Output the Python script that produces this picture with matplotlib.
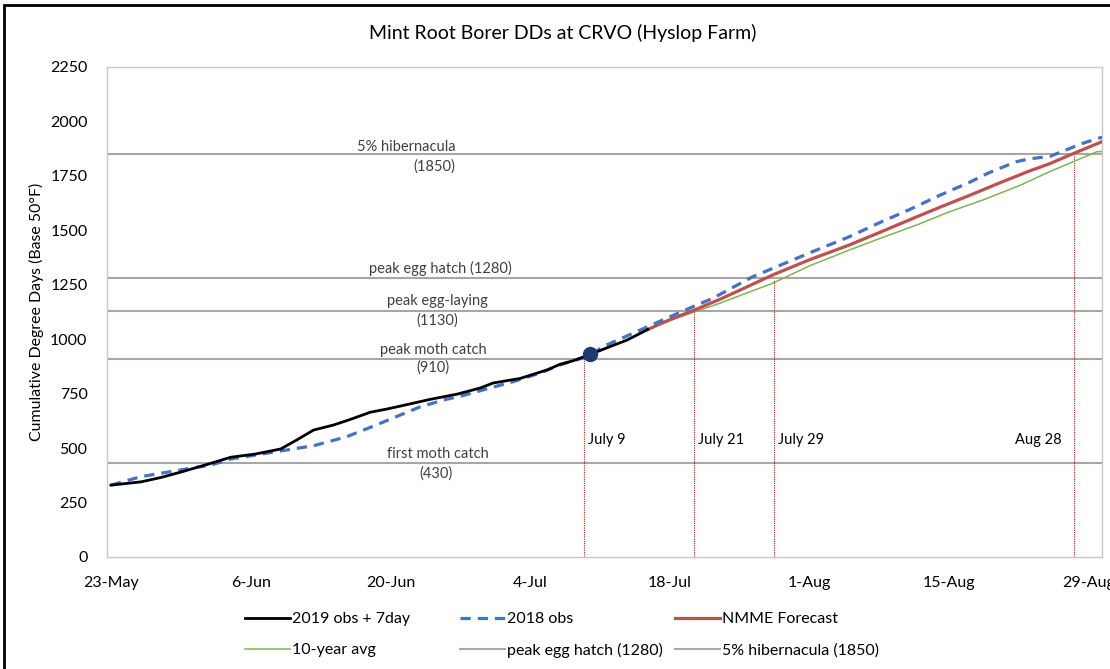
import matplotlib
matplotlib.use("Agg")
import matplotlib.pyplot as plt
from matplotlib.lines import Line2D
from matplotlib.patches import Rectangle

plt.rcParams['font.family'] = ['Lato', 'DejaVu Sans']

# ---- data (x = days after 23-May) ----
tick_days = [0, 14, 28, 42, 56, 70, 84, 98]
tick_labels = ["23-May", "6-Jun", "20-Jun", "4-Jul", "18-Jul", "1-Aug", "15-Aug", "29-Aug"]

obs2019_x = [0, 3, 5, 7, 10, 12, 14.5, 17, 18.6, 20.3, 22.3, 24, 26, 27.7, 29, 32, 34.7,
             37, 38.3, 41, 43.7, 45, 46.3, 48, 50, 51.7, 53.8]
obs2019_y = [330, 345, 365, 390, 430, 458, 473, 496, 537, 583, 606, 632, 665, 680, 693, 724, 748,
             776, 799, 820, 859, 885, 901, 930, 966, 996, 1045]

obs2018_x = [0, 3, 7, 10, 12, 16.6, 20.3, 23.6, 26.3, 29, 31, 33.6, 35, 37.5, 40.3, 43, 45, 47,
             48, 49.3, 51.7, 53.8, 56, 58.3, 60.3, 64.3, 70.3, 74, 77, 80, 83, 86, 88, 90.7,
             92, 94.1, 96, 97.4, 99.3]
obs2018_y = [330, 369, 400, 422, 450, 484, 511, 552, 601, 652, 690, 724, 738, 770, 805, 845, 882, 910,
             925, 966, 1015, 1058, 1103, 1149, 1188, 1287, 1402, 1471, 1535, 1595, 1660, 1720, 1765, 1815,
             1828, 1840, 1875, 1900, 1928]

nmme_x = [53.8, 56, 58.3, 61, 63, 66.3, 70, 74, 77, 80, 83, 86, 89, 92, 94, 96.4, 99.3]
nmme_y = [1045, 1090, 1131, 1183, 1225, 1295, 1365, 1433, 1490, 1548, 1605, 1660, 1717, 1772, 1805, 1852, 1907]

avg10_x = [53.8, 56, 58.3, 61, 63, 66.3, 70, 74, 77, 80.7, 84, 87.4, 91, 94.1, 96.4, 98.8, 99.3]
avg10_y = [1045, 1085, 1123, 1165, 1200, 1257, 1337, 1410, 1462, 1524, 1585, 1640, 1705, 1770, 1815, 1861, 1862]

thresholds = [430, 910, 1130, 1280, 1850]
marker_x, marker_y = 48.0, 932

event_days = [47.4, 58.4, 66.4, 96.5]
event_tops = [930, 1130, 1270, 1852]
event_labels = ["July 9", "July 21", "July 29", "Aug 28"]

stage_texts = ["5% hibernacula", "(1850)", "peak egg hatch (1280)", "peak egg-laying", "(1130)",
               "peak moth catch", "(910)", "first moth catch", "(430)"]
stage_x = [29.6, 32.4, 33.0, 32.7, 32.7, 32.3, 32.3, 32.8, 32.6]
stage_y = [1883, 1791, 1327, 1175, 1084, 950, 868, 473, 381]

# ---- figure ----
W, H = 1110, 669
fig = plt.figure(figsize=(W / 100, H / 100), dpi=100)
ax = fig.add_axes([107 / W, 1 - 557 / H, (1102 - 107) / W, (557 - 67) / H])

gray = "#A6A6A6"
for t in thresholds:
    ax.axhline(t, color=gray, lw=1.5, zorder=1)

for d, top in zip(event_days, event_tops):
    ax.plot([d, d], [0, top], color="#FF0000", lw=0.8, ls=(0, (1, 1)), zorder=2)

ax.plot(avg10_x, avg10_y, color="#7DB54F", lw=1.1, zorder=3)
ax.plot(nmme_x, nmme_y, color="#C0504D", lw=2.3, zorder=4)
ax.plot(obs2018_x, obs2018_y, color="#4472C4", lw=2.3, ls=(0, (3.2, 2.2)), zorder=5)
ax.plot(obs2019_x, obs2019_y, color="#000000", lw=2.0, zorder=6)
ax.plot([marker_x], [marker_y], 'o', color="#1F3A6E", ms=10, zorder=7)

for txt, x, y in zip(stage_texts, stage_x, stage_y):
    ax.text(x, y, txt, ha="center", va="center", fontsize=10.5, color="#404040")

for d, lab in zip(event_days, event_labels):
    if lab == "Aug 28":
        ax.text(d - 1.2, 537, lab, ha="right", va="center", fontsize=10.5, color="#000000")
    else:
        ax.text(d + 0.4, 537, lab, ha="left", va="center", fontsize=10.5, color="#000000")

ax.set_xlim(-0.4, 99.3)
ax.set_ylim(0, 2250)
ax.set_yticks(range(0, 2251, 250))
ax.set_xticks(tick_days)
ax.set_xticklabels(tick_labels)
ax.tick_params(length=0, labelsize=11.5, colors="#000000")
ax.tick_params(axis='x', pad=14)
ax.tick_params(axis='y', pad=14)
for s in ax.spines.values():
    s.set_color("#C8C8C8")
    s.set_linewidth(1.0)
ax.set_ylabel("Cumulative Degree Days (Base 50°F)", fontsize=11.4)
ax.yaxis.set_label_coords(-63 / (1102 - 107), 0.5)

fig.text(563 / W, 1 - 33 / H, "Mint Root Borer DDs at CRVO (Hyslop Farm)",
         ha="center", va="center", fontsize=14)

# legend: three fixed-position columns of two entries
cols = [
    [(Line2D([], [], color="#000000", lw=2.0), "2019 obs + 7day"),
     (Line2D([], [], color="#7DB54F", lw=1.1), "10-year avg")],
    [(Line2D([], [], color="#4472C4", lw=2.3, ls=(0, (3.2, 2.2))), "2018 obs"),
     (Line2D([], [], color=gray, lw=1.5), "peak egg hatch (1280)")],
    [(Line2D([], [], color="#C0504D", lw=2.3), "NMME Forecast"),
     (Line2D([], [], color=gray, lw=1.5), "5% hibernacula (1850)")],
]
col_x = [245, 460, 675]
for cx, entries in zip(col_x, cols):
    fig.legend([e[0] for e in entries], [e[1] for e in entries],
               loc="upper left", bbox_to_anchor=(cx / W, 1 - 612 / H),
               frameon=False, fontsize=11.5, handlelength=2.8, handletextpad=0.15,
               borderpad=0, borderaxespad=0, labelspacing=1.05)

# outer chart border (partially cropped)
fig.patches.append(Rectangle((4 / W, -0.05), 1.2, 1 - 5 / H + 0.05, transform=fig.transFigure,
                             fill=False, edgecolor="#000000", lw=2.0, zorder=10))

fig.savefig("out.png", dpi=100)
